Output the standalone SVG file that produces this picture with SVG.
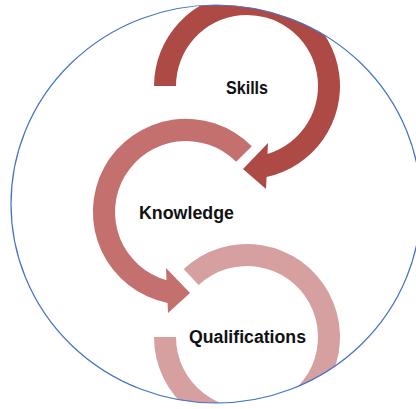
<svg xmlns="http://www.w3.org/2000/svg" width="416" height="409" viewBox="0 0 416 409">
  <style>
    .lbl { font-family: "Liberation Sans", Arial, sans-serif; font-weight: bold; font-size: 18px; fill: #111111; }
    .frame { fill: none; stroke: #4472C4; stroke-width: 1.2; }
  </style>
  <defs>
    <clipPath id="circ">
      <ellipse cx="216" cy="204" rx="205" ry="199"/>
    </clipPath>
  </defs>
  <rect width="416" height="409" fill="#ffffff"/>
  <g clip-path="url(#circ)">
    <g id="skills">
      <path fill="#AE4A46" d="M154,86 A93,93 0 1 1 266.6,177 L266,189 L243,169 L268,143 L267.5,154 A71,71 0 1 0 176,86 Z"/>
    </g>
    <g id="knowledge">
      <path fill="#C4706E" d="M251.8,146.2 A93,93 0 1 0 167.6,303 L168,313 L190,293 L166,268 L166.5,280.3 A71,71 0 1 1 236.2,161.8 Z"/>
    </g>
    <g id="qualifications">
      <path fill="#D6A0A0" d="M154,337 A93,93 0 1 0 183.6,269 L198.6,285.1 A71,71 0 1 1 176,337 Z"/>
    </g>
  </g>
  <g id="labels">
    <text class="lbl" x="226" y="94" textLength="42" lengthAdjust="spacingAndGlyphs">Skills</text>
    <text class="lbl" x="139" y="219" textLength="95" lengthAdjust="spacingAndGlyphs">Knowledge</text>
    <text class="lbl" x="189" y="343" textLength="117" lengthAdjust="spacingAndGlyphs">Qualifications</text>
  </g>
  <g id="frame">
    <ellipse class="frame" cx="216" cy="204" rx="205" ry="199"/>
  </g>
</svg>
